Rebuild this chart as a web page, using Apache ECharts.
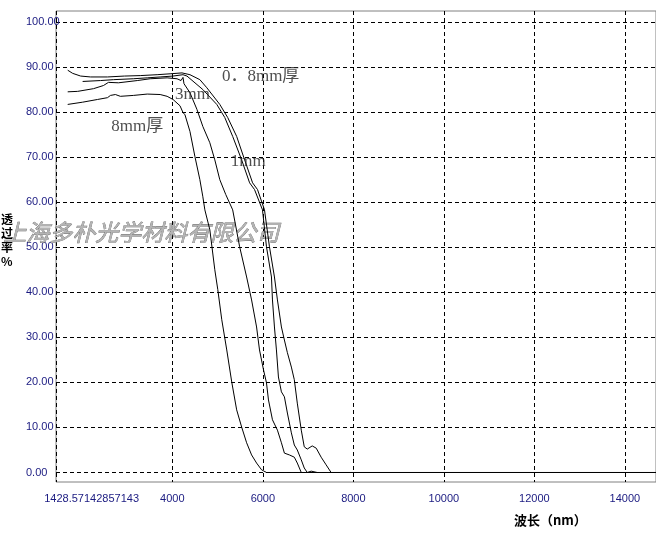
<!DOCTYPE html>
<html>
<head>
<meta charset="utf-8">
<script src="https://cdn.jsdelivr.net/npm/echarts@6/dist/echarts.min.js"></script>
<style>
  html, body { margin: 0; padding: 0; background: #fff; }
  #chart { width: 656px; height: 537px; }
</style>
</head>
<body>
<div id="chart"></div>
<script>
// x ticks / y ticks
const xMin = 1428.57142857143;
const xTicks = [1428.57142857143, 4000, 6000, 8000, 10000, 12000, 14000];
const yTicks = [0, 10, 20, 30, 40, 50, 60, 70, 80, 90, 100];

// 0.8mm厚
const wl08 = [1687, 1797, 1973, 2193, 2566, 2939, 3290, 3664, 3950, 4213, 4257, 4389, 4608, 4762, 5048, 5223, 5421, 5597, 5773, 5882, 6036, 6146, 6256, 6322, 6410, 6476, 6542, 6630, 6695, 6761, 6849, 6915, 6981, 7091, 7179, 7288, 7398, 7508, 14700];
const t08 = [89.3, 88.6, 88.0, 87.8, 87.8, 88.0, 88.1, 88.3, 88.5, 88.7, 89.0, 88.3, 87.2, 85.4, 81.7, 78.8, 74.6, 69.4, 64.3, 62.8, 58.3, 50.1, 43.4, 38.3, 32.3, 29.4, 26.6, 23.4, 20.6, 15.4, 9.4, 5.7, 5.2, 5.9, 5.4, 3.4, 1.7, 0, 0];

// 1mm
const wl1 = [2017, 2412, 2697, 3137, 3445, 3730, 4015, 4235, 4323, 4674, 4982, 5158, 5333, 5531, 5707, 5816, 5992, 6080, 6190, 6212, 6256, 6300, 6344, 6410, 6476, 6542, 6630, 6695, 6761, 6849, 6915, 6981, 7068, 7200];
const t1 = [86.8, 87.0, 87.2, 87.4, 87.6, 87.8, 88.0, 88.3, 88.0, 85.0, 81.7, 78.8, 74.6, 69.4, 64.3, 62.8, 58.3, 50.1, 43.4, 38.3, 32.3, 27.2, 21.2, 17.9, 16.8, 13.2, 8.8, 6.1, 5.0, 2.8, 1.0, 0, 0.3, 0];

// 3mm
const wl3 = [1687, 1907, 2258, 2478, 2588, 2808, 3225, 3510, 3884, 4103, 4191, 4235, 4257, 4389, 4543, 4674, 4828, 4938, 5048, 5180, 5333, 5487, 5641, 5751, 5861, 5926, 6014, 6080, 6124, 6212, 6322, 6410, 6476, 6586, 6695, 6761, 6849];
const t3 = [84.5, 84.6, 85.2, 85.9, 86.6, 86.5, 87.0, 87.4, 87.6, 87.4, 87.0, 87.7, 86.3, 84.3, 80.6, 76.8, 73.2, 69.4, 65.0, 61.7, 58.3, 50.1, 43.4, 38.3, 32.3, 27.2, 22.8, 19.9, 16.1, 11.7, 9.4, 6.6, 4.3, 3.9, 3.4, 2.1, 0];

// 8mm厚
const wl8 = [1687, 2017, 2346, 2566, 2632, 2741, 2851, 3137, 3445, 3730, 3884, 4015, 4169, 4235, 4279, 4389, 4499, 4608, 4674, 4718, 4828, 4938, 5004, 5092, 5202, 5312, 5421, 5531, 5641, 5751, 5861, 5971, 6081, 14700];
const t8 = [81.7, 82.2, 82.8, 83.2, 83.7, 83.9, 83.5, 83.7, 84.0, 83.9, 83.5, 82.8, 81.4, 79.9, 79.4, 75.7, 70.1, 65.0, 61.2, 58.3, 53.9, 45.0, 40.6, 33.9, 27.2, 20.1, 13.9, 10.1, 6.6, 3.9, 2.1, 0.6, 0, 0];

// curve labels
const noteText = ['0．8mm厚', '3mm', '8mm厚', '1mm'];
const noteX = [5095, 4059, 2650, 5293];
const noteY = [87.8, 83.8, 76.9, 69.1];

const zip = (xs, ys) => xs.map((x, i) => [x, ys[i]]);

const chart = echarts.init(document.getElementById('chart'));

const lineSeries = (name, xs, ys) => ({
  name: name,
  type: 'line',
  data: zip(xs, ys),
  showSymbol: false,
  symbol: 'none',
  lineStyle: { color: '#000', width: 1 },
  z: 3
});

const option = {
  animation: false,
  backgroundColor: '#fff',
  grid: {
    left: 56, top: 11, right: -2, bottom: 55,
    show: true, borderColor: '#808080', borderWidth: 1
  },
  xAxis: {
    type: 'value',
    min: xMin,
    max: 14688,
    axisLine: { show: false },
    axisTick: { show: false, customValues: xTicks },
    axisLabel: {
      customValues: xTicks,
      color: '#1a1a80',
      fontFamily: 'Liberation Sans',
      fontSize: 11,
      margin: 11,
      formatter: v => Math.abs(v - xMin) < 1 ? '{m|1428.57142857143}' : String(v),
      rich: {
        m: { width: 166, align: 'right', color: '#1a1a80', fontFamily: 'Liberation Sans', fontSize: 11 }
      }
    },
    splitLine: { show: true, lineStyle: { color: '#000', type: [4, 3], width: 1 } }
  },
  yAxis: {
    type: 'value',
    min: -2.11,
    max: 102.44,
    axisLine: { show: false },
    axisTick: { show: false, customValues: yTicks },
    axisLabel: {
      customValues: yTicks,
      color: '#1a1a80',
      fontFamily: 'Liberation Sans',
      fontSize: 11,
      align: 'left',
      margin: 30,
      formatter: v => v.toFixed(2)
    },
    splitLine: { show: true, lineStyle: { color: '#000', type: [4, 3], width: 1 } }
  },
  graphic: [
    {
      type: 'text', left: 3, top: 220, z: 1, silent: true,
      style: {
        text: '上海多朴光学材料有限公司',
        font: 'italic 23px "Noto Sans CJK SC"',
        fill: '#b4b4b4', stroke: '#606060', lineWidth: 0.6
      }
    },
    {
      type: 'text', left: 1, top: 212,
      style: {
        text: '透\n过\n率\n%',
        font: 'bold 12px "Noto Sans CJK SC"',
        lineHeight: 14, fill: '#000'
      }
    },
    {
      type: 'text', left: 514, top: 514,
      style: {
        text: '波长（nm）',
        font: 'bold 13px "Noto Sans CJK SC"',
        fill: '#000'
      }
    }
  ],
  series: [
    lineSeries('0.8mm厚', wl08, t08),
    lineSeries('1mm', wl1, t1),
    lineSeries('3mm', wl3, t3),
    lineSeries('8mm厚', wl8, t8),
    {
      name: 'notes',
      type: 'scatter',
      symbolSize: 0,
      data: noteText.map((t, i) => ({ name: t, value: [noteX[i], noteY[i]] })),
      label: {
        show: true,
        position: 'right',
        distance: 0,
        formatter: p => p.name,
        fontFamily: '"Liberation Serif", "Noto Sans CJK SC"',
        fontSize: 17,
        color: '#222'
      },
      z: 4
    }
  ]
};

chart.setOption(option);
</script>
</body>
</html>
